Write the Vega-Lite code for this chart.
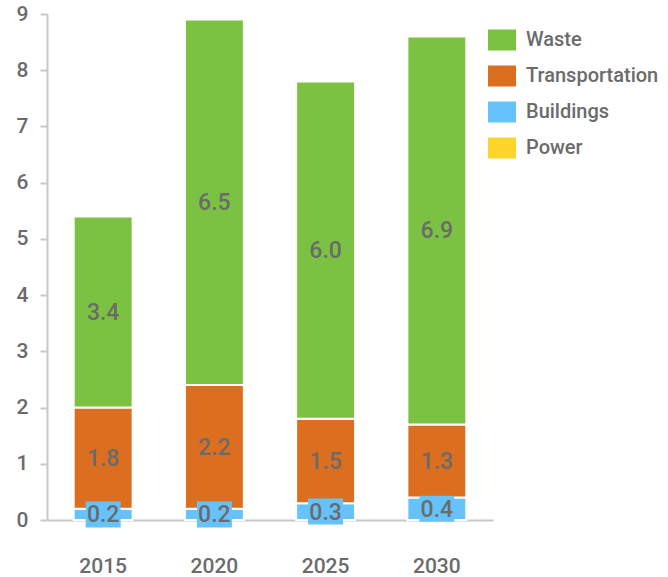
{
  "$schema": "https://vega.github.io/schema/vega-lite/v6.json",
  "autosize": "none",
  "width": 446,
  "height": 506,
  "padding": {"left": 47, "top": 14, "right": 175, "bottom": 57},
  "background": "white",
  "config": {
    "view": {"stroke": null},
    "font": "Roboto, sans-serif"
  },
  "data": {
    "values": [
      {"year": "2015", "category": "Power", "value": 0},
      {"year": "2015", "category": "Buildings", "value": 0.2},
      {"year": "2015", "category": "Transportation", "value": 1.8},
      {"year": "2015", "category": "Waste", "value": 3.4},
      {"year": "2020", "category": "Power", "value": 0},
      {"year": "2020", "category": "Buildings", "value": 0.2},
      {"year": "2020", "category": "Transportation", "value": 2.2},
      {"year": "2020", "category": "Waste", "value": 6.5},
      {"year": "2025", "category": "Power", "value": 0},
      {"year": "2025", "category": "Buildings", "value": 0.3},
      {"year": "2025", "category": "Transportation", "value": 1.5},
      {"year": "2025", "category": "Waste", "value": 6.0},
      {"year": "2030", "category": "Power", "value": 0},
      {"year": "2030", "category": "Buildings", "value": 0.4},
      {"year": "2030", "category": "Transportation", "value": 1.3},
      {"year": "2030", "category": "Waste", "value": 6.9}
    ]
  },
  "transform": [
    {"stack": "value", "groupby": ["year"], "sort": [{"field": "category", "order": "ascending"}], "as": ["v0", "v1"]},
    {"calculate": "(datum.v0 + datum.v1) / 2", "as": "mid"}
  ],
  "encoding": {
    "x": {
      "field": "year", "type": "nominal",
      "scale": {"paddingInner": 0.47, "paddingOuter": 0.24},
      "axis": {
        "title": null, "labelAngle": 0, "ticks": false,
        "domainColor": "#c8c8c8", "domainWidth": 2,
        "labelColor": "#6b6b6b", "labelFontSize": 21, "labelFontWeight": 500,
        "labelPadding": 35
      }
    }
  },
  "layer": [
    {
      "mark": {"type": "bar", "stroke": "white", "strokeWidth": 2},
      "encoding": {
        "y": {
          "field": "v0", "type": "quantitative",
          "scale": {"domain": [0, 9], "nice": false},
          "axis": {
            "title": null, "grid": false, "tickCount": 9,
            "domainColor": "#c8c8c8", "domainWidth": 2,
            "tickColor": "#c8c8c8", "tickWidth": 2, "tickSize": 7,
            "labelColor": "#6b6b6b", "labelFontSize": 21, "labelFontWeight": 500,
            "labelPadding": 12
          }
        },
        "y2": {"field": "v1"},
        "color": {
          "field": "category", "type": "nominal",
          "scale": {
            "domain": ["Waste", "Transportation", "Buildings", "Power"],
            "range": ["#7cc242", "#dc6e1f", "#66c2fb", "#fdd42a"]
          },
          "legend": {
            "title": null, "orient": "none", "legendX": 441, "legendY": 12,
            "symbolType": "M-1,-0.75H1V0.75H-1Z", "symbolSize": 784,
            "symbolStrokeWidth": 0, "symbolOpacity": 1,
            "labelFontSize": 20, "labelFontWeight": 500, "labelColor": "#6b6b6b", "labelOffset": 10,
            "rowPadding": 11, "labelLimit": 300
          }
        }
      }
    },
    {
      "transform": [{"filter": "datum.category == 'Buildings'"}],
      "mark": {"type": "point", "shape": "M-1,-0.743H1V0.743H-1Z", "filled": true, "size": 1225, "opacity": 1, "color": "#66c2fb"},
      "encoding": {
        "y": {"field": "mid", "type": "quantitative"}
      }
    },
    {
      "transform": [{"filter": "datum.category != 'Power'"}],
      "mark": {"type": "text", "fontSize": 23, "fontWeight": 500, "color": "#6b6b6b", "baseline": "middle", "dy": 1},
      "encoding": {
        "y": {"field": "mid", "type": "quantitative"},
        "text": {"field": "value", "type": "quantitative", "format": ".1f"}
      }
    }
  ]
}
